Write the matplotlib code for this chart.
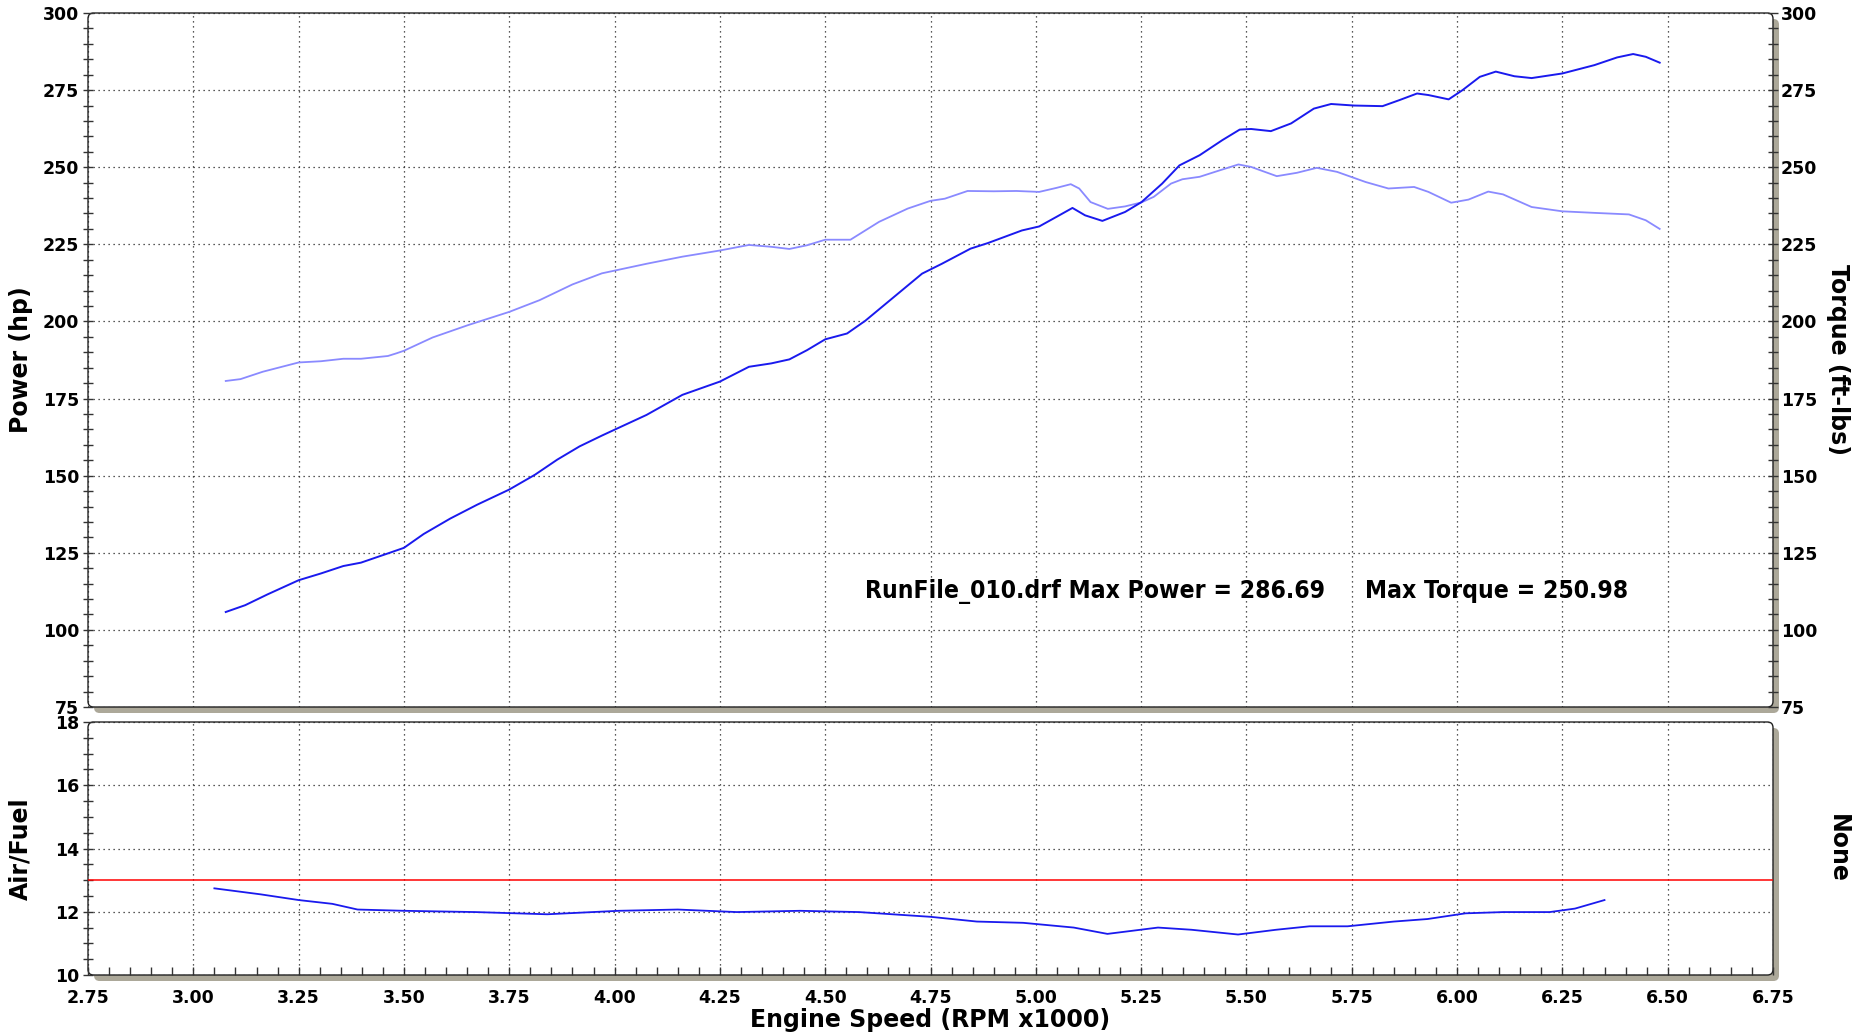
import matplotlib
matplotlib.use("Agg")
import matplotlib.pyplot as plt
from matplotlib.patches import FancyBboxPatch
from matplotlib.ticker import MultipleLocator

# Power (hp) vs engine speed (RPM x1000)
power_rpm = [3.077, 3.123, 3.176, 3.25, 3.303, 3.356, 3.398, 3.462, 3.50, 3.547, 3.61, 3.674,
             3.75, 3.811, 3.864, 3.917, 3.97, 4.00, 4.076, 4.161, 4.25, 4.319, 4.372, 4.415,
             4.457, 4.50, 4.552, 4.595, 4.655, 4.73, 4.777, 4.845, 4.886, 4.967, 5.008, 5.049,
             5.087, 5.117, 5.158, 5.212, 5.251, 5.30, 5.341, 5.389, 5.443, 5.484, 5.511, 5.558,
             5.606, 5.66, 5.701, 5.755, 5.823, 5.864, 5.905, 5.932, 5.98, 6.013, 6.054, 6.092,
             6.136, 6.177, 6.25, 6.326, 6.38, 6.418, 6.448, 6.481]
power_hp = [105.8, 108.0, 111.5, 116.1, 118.3, 120.7, 121.8, 124.8, 126.6, 131.1, 136.1, 140.6,
            145.5, 150.3, 155.2, 159.5, 163.0, 164.9, 169.7, 176.2, 180.5, 185.3, 186.4, 187.7,
            190.7, 194.2, 196.1, 200.2, 207.0, 215.5, 218.7, 223.6, 225.4, 229.5, 230.8, 233.9,
            236.8, 234.4, 232.6, 235.5, 238.7, 244.7, 250.6, 253.9, 258.8, 262.2, 262.4, 261.7,
            264.2, 269.0, 270.5, 270.0, 269.8, 271.8, 273.9, 273.4, 272.0, 275.0, 279.3, 281.0,
            279.5, 278.9, 280.4, 283.1, 285.6, 286.7, 285.8, 283.9]

# Torque (ft-lbs)
torque_rpm = [3.077, 3.112, 3.165, 3.25, 3.303, 3.356, 3.398, 3.462, 3.483, 3.50, 3.568, 3.652,
              3.75, 3.822, 3.90, 3.97, 4.076, 4.161, 4.25, 4.319, 4.372, 4.415, 4.457, 4.50,
              4.56, 4.628, 4.696, 4.75, 4.784, 4.838, 4.90, 4.954, 5.008, 5.049, 5.083, 5.103,
              5.13, 5.171, 5.212, 5.251, 5.28, 5.321, 5.348, 5.389, 5.43, 5.481, 5.511, 5.572,
              5.62, 5.667, 5.715, 5.783, 5.837, 5.898, 5.932, 5.986, 6.027, 6.074, 6.109, 6.177,
              6.25, 6.326, 6.408, 6.448, 6.481]
torque_ftlb = [180.7, 181.3, 183.7, 186.7, 187.1, 187.9, 187.9, 188.8, 189.7, 190.5, 194.8, 198.8,
               203.1, 206.9, 212.0, 215.6, 218.7, 221.0, 223.0, 224.8, 224.2, 223.5, 224.7, 226.5,
               226.5, 232.3, 236.6, 239.1, 239.8, 242.3, 242.2, 242.3, 242.0, 243.3, 244.5, 243.1,
               238.7, 236.5, 237.3, 238.6, 240.4, 244.7, 246.1, 246.9, 248.7, 250.9, 250.1, 247.1,
               248.2, 249.8, 248.5, 245.2, 243.1, 243.6, 242.0, 238.5, 239.5, 242.1, 241.2, 237.1,
               235.7, 235.2, 234.7, 232.8, 230.0]

# Air/fuel ratio
afr_rpm = [3.05, 3.16, 3.25, 3.33, 3.39, 3.50, 3.67, 3.84, 4.01, 4.15, 4.29, 4.44,
           4.58, 4.75, 4.86, 4.97, 5.09, 5.17, 5.29, 5.37, 5.48, 5.57, 5.65, 5.74,
           5.85, 5.93, 6.02, 6.11, 6.22, 6.28, 6.35]
afr = [12.74, 12.55, 12.37, 12.25, 12.07, 12.03, 11.99, 11.92, 12.03, 12.07, 11.99, 12.03,
       11.99, 11.84, 11.69, 11.65, 11.50, 11.30, 11.50, 11.43, 11.28, 11.43, 11.54, 11.54,
       11.69, 11.77, 11.95, 11.99, 11.99, 12.10, 12.37]
afr_target = 13.0

title_text = "RunFile_010.drf Max Power = 286.69"
torque_text = "Max Torque = 250.98"

plt.rcParams["font.family"] = "DejaVu Sans"
plt.rcParams["font.weight"] = "bold"
plt.rcParams["font.size"] = 12.5

W, H = 1871, 1035
fig = plt.figure(figsize=(W / 100, H / 100), dpi=100)

shadow_col = "#aca899"
label_font = dict(fontsize=17, fontweight="bold")
grid_kw = dict(ls=(0, (1, 3)), color="#222222", lw=0.9)


def px_rect(left, top, right, bottom):
    return [left / W, 1 - bottom / H, (right - left) / W, (bottom - top) / H]


def add_frame(rect):
    x0, y0, w, h = rect
    style = "round,pad=0,rounding_size=0.003"
    asp = W / H
    sh = FancyBboxPatch((x0 + 6 / W, y0 - 6 / H), w, h, boxstyle=style, mutation_aspect=asp,
                        transform=fig.transFigure, fc=shadow_col, ec="none", zorder=-2)
    fr = FancyBboxPatch((x0, y0), w, h, boxstyle=style, mutation_aspect=asp,
                        transform=fig.transFigure, fc="white", ec="#222222", lw=1.0, zorder=-1)
    fig.patches.extend([sh, fr])


def style_axes(ax):
    ax.patch.set_visible(False)
    for s in ax.spines.values():
        s.set_visible(False)


top_rect = px_rect(88, 13, 1773, 707)
bot_rect = px_rect(88, 722, 1773, 975)
add_frame(top_rect)
add_frame(bot_rect)

# ---- top panel: power and torque
ax = fig.add_axes(top_rect)
style_axes(ax)
ax.set_xlim(2.75, 6.75)
ax.set_ylim(75, 300)
ax.xaxis.set_major_locator(MultipleLocator(0.25))
ax.yaxis.set_major_locator(MultipleLocator(25))
ax.yaxis.set_minor_locator(MultipleLocator(5))
ax.tick_params(axis="x", which="both", bottom=False, labelbottom=False)
ax.tick_params(axis="y", which="both", direction="inout", length=7, width=1,
               color="#333333", pad=3)
ax.grid(True, which="major", **grid_kw)

ax.plot(torque_rpm, torque_ftlb, color="#8a8aff", lw=1.3, zorder=3)
ax.plot(power_rpm, power_hp, color="#1a1aee", lw=1.4, zorder=4)

ax.set_ylabel("Power (hp)", va="center", **label_font)
ax.yaxis.set_label_coords(-0.040, 0.5)

narrow = dict(fontsize=17.7, fontweight="bold", family="DejaVu Sans", fontstretch="condensed")
ax.text(0.461, 0.167, title_text, transform=ax.transAxes, ha="left", va="center", **narrow)
ax.text(0.758, 0.167, torque_text, transform=ax.transAxes, ha="left", va="center", **narrow)

axr = ax.twinx()
style_axes(axr)
axr.set_ylim(75, 300)
axr.yaxis.set_major_locator(MultipleLocator(25))
axr.yaxis.set_minor_locator(MultipleLocator(5))
axr.tick_params(axis="y", which="both", direction="inout", length=7, width=1,
                color="#333333", pad=2)
axr.set_ylabel("Torque (ft-lbs)", rotation=270, va="center", **label_font)
axr.yaxis.set_label_coords(1.0386, 0.5)

# ---- bottom panel: air / fuel
bx = fig.add_axes(bot_rect)
style_axes(bx)
bx.set_xlim(2.75, 6.75)
bx.set_ylim(10, 18)
bx.xaxis.set_major_locator(MultipleLocator(0.25))
bx.xaxis.set_minor_locator(MultipleLocator(0.05))
bx.yaxis.set_major_locator(MultipleLocator(2))
bx.yaxis.set_minor_locator(MultipleLocator(0.5))
bx.tick_params(axis="x", which="both", direction="in", length=6, width=1,
               color="#333333", pad=10)
bx.tick_params(axis="y", which="both", direction="inout", length=7, width=1,
               color="#333333", pad=3)
bx.xaxis.set_major_formatter(lambda v, p: f"{v:.2f}")
bx.grid(True, which="major", **grid_kw)

bx.axhline(afr_target, color="red", lw=1.1, zorder=3)
bx.plot(afr_rpm, afr, color="#1a1aee", lw=1.3, zorder=4)

bx.set_ylabel("Air/Fuel", va="center", **label_font)
bx.yaxis.set_label_coords(-0.040, 0.5)
bx.set_xlabel("Engine Speed (RPM x1000)", va="center", **label_font)
bx.xaxis.set_label_coords(0.5, -0.178)

bxr = bx.twinx()
style_axes(bxr)
bxr.set_yticks([])
bxr.set_ylabel("None", rotation=270, va="center", **label_font)
bxr.yaxis.set_label_coords(1.0386, 0.5)

fig.savefig("out.png", dpi=100)
